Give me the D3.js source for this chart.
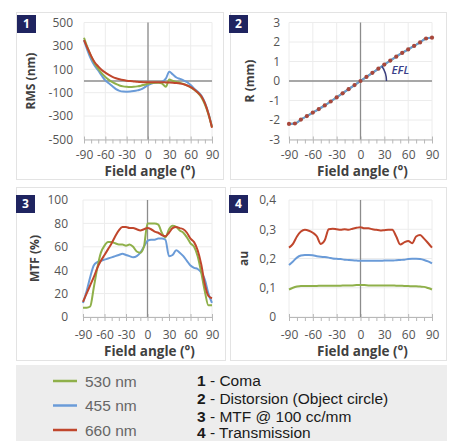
<!DOCTYPE html>
<html>
<head>
<meta charset="utf-8">
<script src="https://cdn.jsdelivr.net/npm/d3@7"></script>
<style>
  body { margin: 0; background: #fff; }
  svg { display: block; font-family: "Open Sans", sans-serif; }
</style>
</head>
<body>
<svg id="chart" width="451" height="441"></svg>
<script>
var angles = [-90,-85,-80,-75,-70,-65,-60,-55,-50,-45,-40,-35,-30,-25,-20,-15,-10,-5,0,
              5,10,15,20,25,30,35,40,45,50,55,60,65,70,75,80,85,90];
var xTicks = [-90,-60,-30,0,30,60,90];
var xMinorTicks = [-90,-80,-70,-60,-50,-40,-30,-20,-10,0,10,20,30,40,50,60,70,80,90];

// 1 - Coma (RMS, nm)
var rmsGreen = [370,285,210,150,105,65,35,10,-10,-25,-38,-46,-50,-52,-50,-46,-40,-32,-24,
                -18,-14,-14,-22,-50,12,0,-8,-16,-26,-38,-55,-75,-100,-138,-200,-285,-395];
var rmsBlue  = [350,260,185,130,90,45,5,-20,-45,-70,-84,-90,-91,-90,-86,-80,-72,-55,-35,
                -22,-14,-10,-5,20,78,55,30,18,5,-10,-35,-65,-92,-125,-185,-275,-390];
var rmsRed   = [350,280,215,160,125,95,72,52,36,24,15,8,3,-1,-4,-7,-9,-10,-11,
                -11,-11,-11,-11,-12,-13,-15,-18,-22,-28,-38,-52,-72,-98,-130,-190,-280,-400];
var rmsTicks = [-500,-300,-100,100,300,500];

// 2 - Distorsion (R, mm)
var distAngles = [-90,-82.5,-75,-67.5,-60,-52.5,-45,-37.5,-30,-22.5,-15,-7.5,0,
                  7.5,15,22.5,30,37.5,45,52.5,60,67.5,75,82.5,90];
var distR = [-2.2,-2.18,-1.98,-1.8,-1.62,-1.44,-1.25,-1.05,-0.84,-0.63,-0.42,-0.21,0,
             0.21,0.42,0.63,0.84,1.05,1.25,1.44,1.62,1.8,1.98,2.18,2.22];
var rTicks = [-3,-2,-1,0,1,2,3];

// 3 - MTF @ 100 cc/mm (%)
var mtfGreen = [8,8,9,25,42,55,61,64,64,63,62,62,61,62,60,56,55,60,80,
                80,80,79,72,68,75,78,77,74,72,68,63,60,52,38,22,10,10];
var mtfBlue  = [12,22,34,44,47,48,49,50,51,52,53,54,53,52,51,52,55,60,65,
                66,66,67,67,66,52,53,57,55,52,48,44,42,41,38,32,20,12];
var mtfRed   = [13,20,27,34,42,48,53,58,63,69,74,77,77,76,76,75,74,75,76,
                75,73,72,70,69,72,76,77,76,75,72,67,64,57,45,28,18,16];
var mtfTicks = [0,20,40,60,80,100];

// 4 - Transmission (au)
var transGreen = [0.094,0.1,0.104,0.106,0.106,0.106,0.106,0.106,0.107,0.107,0.107,0.107,0.107,0.107,0.108,0.108,0.108,0.109,0.109,
                  0.109,0.108,0.108,0.108,0.108,0.108,0.108,0.108,0.107,0.107,0.106,0.106,0.105,0.105,0.104,0.103,0.099,0.094];
var transBlue  = [0.178,0.19,0.203,0.21,0.212,0.212,0.211,0.208,0.206,0.205,0.203,0.2,0.199,0.198,0.196,0.195,0.194,0.193,0.192,
                  0.192,0.192,0.192,0.192,0.192,0.193,0.193,0.193,0.194,0.195,0.196,0.198,0.199,0.199,0.198,0.195,0.19,0.183];
var transRed   = [0.237,0.25,0.275,0.292,0.298,0.295,0.288,0.276,0.25,0.262,0.3,0.302,0.3,0.298,0.3,0.298,0.302,0.305,0.307,
                  0.303,0.303,0.3,0.298,0.296,0.297,0.298,0.298,0.275,0.248,0.255,0.26,0.252,0.275,0.28,0.268,0.253,0.237];
var transTicks = [0,0.1,0.2,0.3,0.4];

var wavelengths = ["530 nm","455 nm","660 nm"];
var colors = ["#8fb04a","#6a9bd8","#c0462c"];
var notes = [["1","Coma"],["2","Distorsion (Object circle)"],["3","MTF @ 100 cc/mm"],["4","Transmission"]];

var svg = d3.select("#chart");

function drawPanel(p) {
  var g = svg.append("g");

  g.append("rect")
    .attr("x", p.box[0] + 0.5).attr("y", p.box[1] + 0.5)
    .attr("width", p.box[2]).attr("height", p.box[3])
    .attr("fill", "#fff").attr("stroke", "#e3e3e3");

  var x = d3.scaleLinear().domain([-90, 90]).range([p.left, p.right]);
  var y = d3.scaleLinear().domain(p.yDomain).range([p.bottom, p.top]);

  // grid
  g.append("g").selectAll("line").data(xTicks).join("line")
    .attr("x1", d => x(d)).attr("x2", d => x(d))
    .attr("y1", p.top).attr("y2", p.bottom)
    .attr("stroke", "#ececec");
  g.append("g").selectAll("line").data(p.yTicks).join("line")
    .attr("x1", p.left).attr("x2", p.right)
    .attr("y1", d => y(d)).attr("y2", d => y(d))
    .attr("stroke", "#ececec");

  // x axis with minor ticks
  var xa = g.append("g")
    .attr("transform", "translate(0," + p.bottom + ")")
    .call(d3.axisBottom(x).tickValues(xMinorTicks).tickSize(4).tickSizeOuter(0)
      .tickFormat(d => xTicks.indexOf(d) >= 0 ? d : ""));
  xa.attr("font-family", null).attr("font-size", null);
  xa.select(".domain").attr("stroke", "#b8b8b8");
  xa.selectAll(".tick line").attr("stroke", "#b8b8b8")
    .attr("y1", d => d % 30 === 0 ? -3 : 0);
  xa.selectAll("text")
    .attr("y", p.xLabelDy).attr("dy", "0.35em")
    .attr("fill", "#555").style("font-size", "12px");

  // y axis labels only
  var ya = g.append("g")
    .attr("transform", "translate(" + p.left + ",0)")
    .call(d3.axisLeft(y).tickValues(p.yTicks).tickSize(0).tickPadding(p.gap)
      .tickFormat(p.yFmt));
  ya.attr("font-family", null).attr("font-size", null);
  ya.select(".domain").remove();
  ya.selectAll("text").attr("fill", "#555").style("font-size", "12px");

  // zero lines
  g.append("line")
    .attr("x1", x(0)).attr("x2", x(0)).attr("y1", p.top).attr("y2", p.bottom)
    .attr("stroke", "#8c8c8c").attr("stroke-width", 1.3);
  if (p.zeroH) {
    g.append("line")
      .attr("x1", p.left).attr("x2", p.right).attr("y1", y(0)).attr("y2", y(0))
      .attr("stroke", "#8c8c8c").attr("stroke-width", 1.3);
  }

  // series
  var line = d3.line().x((d, i) => x(p.xs[i])).y(d => y(d)).curve(d3.curveMonotoneX);
  p.series.forEach(function (s) {
    g.append("path").datum(s.values)
      .attr("d", line).attr("fill", "none")
      .attr("stroke", s.color).attr("stroke-width", 2);
  });
  if (p.markers) {
    g.append("g").selectAll("circle").data(p.markers).join("circle")
      .attr("cx", (d, i) => x(p.xs[i])).attr("cy", d => y(d))
      .attr("r", 2.1).attr("fill", "#a8473b");
  }

  // badge
  g.append("rect")
    .attr("x", p.badge[0]).attr("y", p.badge[1]).attr("width", 19).attr("height", 18)
    .attr("fill", "#1f2460");
  g.append("text")
    .attr("x", p.badge[0] + 9.5).attr("y", p.badge[1] + 9)
    .attr("dy", "0.35em").attr("text-anchor", "middle")
    .attr("fill", "#fff").style("font-size", "12px").style("font-weight", "700")
    .text(p.num);

  // titles
  g.append("text")
    .attr("transform", "translate(" + p.yTitleX + "," + ((p.top + p.bottom) / 2) + ") rotate(-90)")
    .attr("dy", "0.35em").attr("text-anchor", "middle")
    .attr("fill", "#404040").style("font-size", "12px").style("font-weight", "700")
    .text(p.yTitle);
  g.append("text")
    .attr("x", (p.left + p.right) / 2 + 2).attr("y", p.xTitleY)
    .attr("dy", "0.35em").attr("text-anchor", "middle")
    .attr("fill", "#404040").style("font-size", "13.5px").style("font-weight", "700")
    .text("Field angle (°)");

  return { x: x, y: y, g: g };
}

drawPanel({
  num: "1", box: [16, 12, 207, 167], badge: [17, 15],
  left: 84, right: 212, top: 22.5, bottom: 139.5,
  yDomain: [-500, 500], yTicks: rmsTicks, yFmt: d => d, gap: 11,
  yTitle: "RMS (nm)", yTitleX: 31, xLabelDy: 15.5, xTitleY: 171.5, zeroH: true,
  xs: angles,
  series: [
    { values: rmsBlue, color: colors[1] },
    { values: rmsGreen, color: colors[0] },
    { values: rmsRed, color: colors[2] }
  ]
});

var p2 = drawPanel({
  num: "2", box: [230, 12, 216, 167], badge: [229, 15],
  left: 289, right: 432, top: 22.5, bottom: 139.5,
  yDomain: [-3, 3], yTicks: rTicks, yFmt: d => d, gap: 9,
  yTitle: "R (mm)", yTitleX: 250, xLabelDy: 15.5, xTitleY: 171.5, zeroH: true,
  xs: distAngles,
  series: [
    { values: distR, color: colors[0] },
    { values: distR, color: colors[1] }
  ],
  markers: distR
});

// EFL angle annotation
(function () {
  var cx = p2.x(0), cy = p2.y(0);
  var px = p2.x(30) - cx, py = cy - p2.y(distR[16]);
  var theta = Math.atan2(py, px), r = 26;
  var path = d3.path();
  path.moveTo(cx + r * Math.cos(-theta), cy + r * Math.sin(-theta));
  path.arc(cx, cy, r, -theta, 0);
  p2.g.append("path").attr("d", path.toString())
    .attr("fill", "none").attr("stroke", "#3b3f7e").attr("stroke-width", 1.5);
  p2.g.append("text")
    .attr("x", cx + 31).attr("y", cy - 11).attr("dy", "0.35em")
    .attr("fill", "#3b3f8a").style("font-size", "11.5px").style("font-style", "italic")
    .style("font-weight", "600")
    .text("EFL");
})();

drawPanel({
  num: "3", box: [16, 187, 209, 173], badge: [16, 195],
  left: 83, right: 212, top: 200, bottom: 317,
  yDomain: [0, 100], yTicks: mtfTicks, yFmt: d => d, gap: 15,
  yTitle: "MTF (%)", yTitleX: 35, xLabelDy: 18, xTitleY: 351.5, zeroH: false,
  xs: angles,
  series: [
    { values: mtfBlue, color: colors[1] },
    { values: mtfGreen, color: colors[0] },
    { values: mtfRed, color: colors[2] }
  ]
});

drawPanel({
  num: "4", box: [230, 187, 216, 173], badge: [229, 195],
  left: 289, right: 432, top: 200, bottom: 317,
  yDomain: [0, 0.4], yTicks: transTicks, yFmt: d => d === 0 ? "0" : String(d).replace(".", ","), gap: 13,
  yTitle: "au", yTitleX: 244, xLabelDy: 18, xTitleY: 351.5, zeroH: false,
  xs: angles,
  series: [
    { values: transGreen, color: colors[0] },
    { values: transBlue, color: colors[1] },
    { values: transRed, color: colors[2] }
  ]
});

// legend box
var leg = svg.append("g");
leg.append("rect").attr("x", 16).attr("y", 365).attr("width", 431).attr("height", 76)
  .attr("fill", "#ededed");

var legY = d3.scalePoint().domain(wavelengths).range([381, 430]);
leg.selectAll("line.key").data(wavelengths).join("line")
  .attr("class", "key")
  .attr("x1", 53).attr("x2", 77)
  .attr("y1", d => legY(d)).attr("y2", d => legY(d))
  .attr("stroke", (d, i) => colors[i]).attr("stroke-width", 2.5);
leg.selectAll("text.key").data(wavelengths).join("text")
  .attr("class", "key")
  .attr("x", 85).attr("y", d => legY(d)).attr("dy", "0.36em")
  .attr("fill", "#666").style("font-family", "'Liberation Sans', Arial, sans-serif")
  .style("font-size", "15.5px")
  .text(d => d);

var noteY = [386, 404, 421.5, 438];
var nt = leg.selectAll("text.note").data(notes).join("text")
  .attr("class", "note")
  .attr("x", 197).attr("y", (d, i) => noteY[i])
  .attr("fill", "#1a1a1a").style("font-family", "'Liberation Sans', Arial, sans-serif")
  .style("font-size", "15.5px");
nt.append("tspan").style("font-weight", "700").text(d => d[0]);
nt.append("tspan").text(d => " - " + d[1]);
</script>
</body>
</html>
